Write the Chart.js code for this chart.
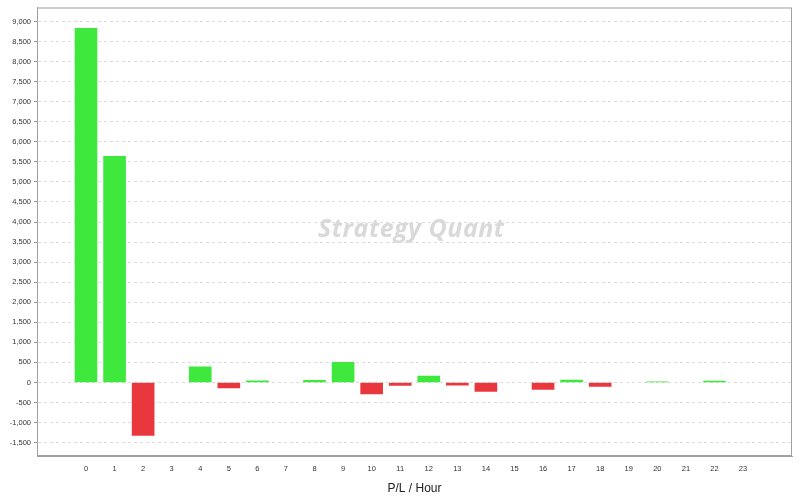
<!DOCTYPE html>
<html>
<head>
<meta charset="utf-8">
<script src="https://cdn.jsdelivr.net/npm/chart.js@4.4.0/dist/chart.umd.min.js"></script>
<style>
  html, body { margin: 0; padding: 0; background: #fff; }
  #wrap { position: relative; width: 800px; height: 500px; }
  #watermark {
    position: absolute; left: 318px; top: 210px;
    font-family: "Open Sans", sans-serif; font-weight: bold; font-style: italic;
    font-size: 25px; color: #d9d9d9; letter-spacing: 0.5px; pointer-events: none;
  }
</style>
</head>
<body>
<div id="wrap">
  <canvas id="plChart" width="800" height="500"></canvas>
  <div id="watermark">Strategy Quant</div>
</div>
<script>
// 時間ごとの損益
const hours = [0, 1, 2, 3, 4, 5, 6, 7, 8, 9, 10, 11, 12, 13, 14, 15, 16, 17, 18, 19, 20, 21, 22, 23];
const plValues = [8830, 5640, -1320, 0, 390, -135, 40, 0, 55, 500, -285, -75, 157, -67, -225, 0, -175, 57, -100, 0, 15, 0, 32, 0];
// 縦軸の目盛り
const yTicks = [-1500, -1000, -500, 0, 500, 1000, 1500, 2000, 2500, 3000, 3500, 4000, 4500,
    5000, 5500, 6000, 6500, 7000, 7500, 8000, 8500, 9000];

const GREEN = '#3fe83c';
const RED = '#e8383d';

// 枠線（上と右）
const frame = {
    id: 'frame',
    afterDraw(chart) {
        const a = chart.chartArea;
        const ctx = chart.ctx;
        ctx.save();
        ctx.strokeStyle = '#a0a0a0';
        ctx.lineWidth = 1;
        ctx.strokeRect(a.left + 0.5, a.top + 0.5, a.right - a.left - 1, a.bottom - a.top - 1);
        ctx.restore();
    }
};

function barColor(v) {
    if (v === 0) return 'rgba(0,0,0,0)';
    return v > 0 ? GREEN : RED;
}

const ctx = document.getElementById('plChart').getContext('2d');
new Chart(ctx, {
    type: 'bar',
    data: {
        datasets: [{
            data: hours.map((h, i) => ({ x: h, y: plValues[i] })),
            backgroundColor: plValues.map(barColor),
            borderWidth: 0,
            barThickness: 22
        }]
    },
    options: {
        responsive: false,
        animation: false,
        layout: { padding: { top: 6, right: 8, left: 0, bottom: 0 } },
        plugins: {
            legend: { display: false },
            tooltip: { enabled: false }
        },
        scales: {
            x: {
                type: 'linear',
                offset: false,
                min: -1.715,
                max: 24.715,
                afterBuildTicks(scale) {
                    scale.ticks = hours.map(h => ({ value: h }));
                },
                afterFit(scale) { scale.height = 44; },
                grid: { display: false, drawTicks: true, tickLength: 3 },
                border: { display: true, color: '#a0a0a0' },
                ticks: {
                    color: '#333',
                    font: { family: 'Liberation Sans', size: 7.5 },
                    padding: 5,
                    maxRotation: 0,
                    autoSkip: false
                },
                title: {
                    display: true,
                    text: 'P/L / Hour',
                    color: '#222',
                    font: { family: 'Liberation Sans', size: 12 },
                    padding: { top: 8, bottom: 4 }
                }
            },
            y: {
                min: -1833,
                max: 9348,
                afterBuildTicks(scale) {
                    scale.ticks = yTicks.map(v => ({ value: v }));
                },
                afterFit(scale) { scale.width = 37; },
                grid: {
                    color: '#dcdcdc',
                    tickColor: '#999',
                    tickLength: 3,
                    tickBorderDash: []
                },
                border: { display: true, color: '#a0a0a0', dash: [3, 3] },
                ticks: {
                    color: '#333',
                    padding: 3,
                    font: { family: 'Liberation Sans', size: 7.5 },
                    callback: v => v.toLocaleString('en-US')
                }
            }
        }
    },
    plugins: [frame]
});
</script>
</body>
</html>
